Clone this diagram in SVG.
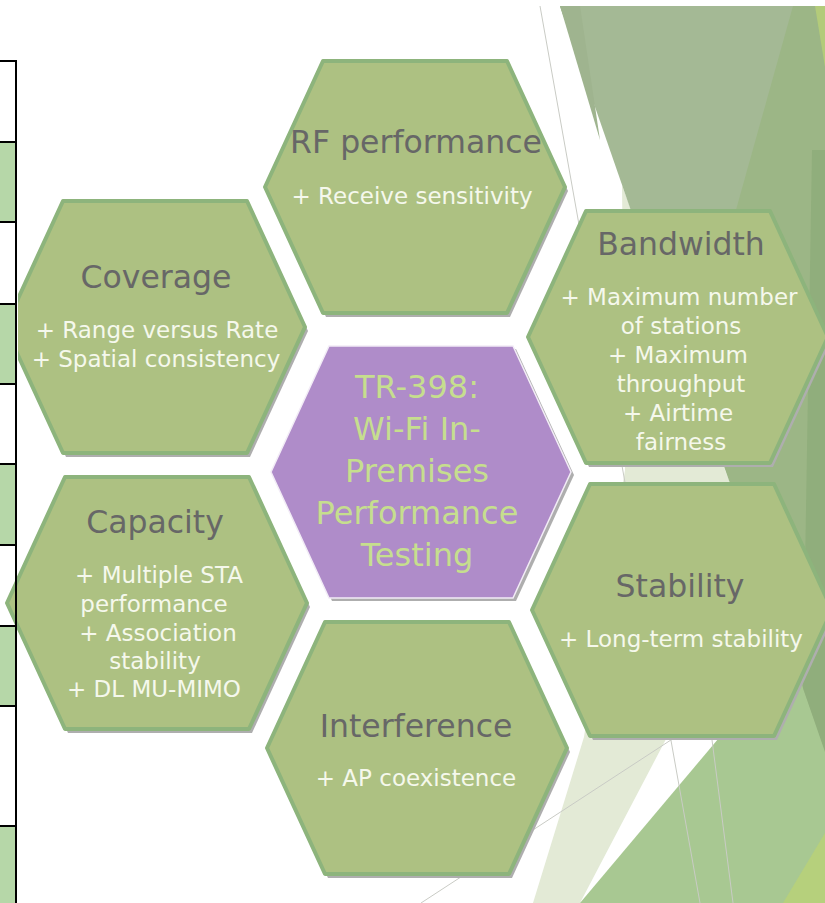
<svg xmlns="http://www.w3.org/2000/svg" xmlns:xlink="http://www.w3.org/1999/xlink" width="825" height="903" viewBox="0 0 825 903">
<style>
.hx{fill:#adc182;stroke:#8db47c;stroke-width:4;stroke-linejoin:round}
.hc{fill:#af8cc9;stroke:#f2ecf6;stroke-width:1.5}
.sh{fill:#aeaeae}
.t{font-family:"DejaVu Sans",Verdana,sans-serif;font-size:31.5px;fill:#676767;text-anchor:middle}
.s{font-family:"DejaVu Sans",Verdana,sans-serif;font-size:23px;fill:#f5f8ec;text-anchor:middle}
.c{font-family:"DejaVu Sans",Verdana,sans-serif;font-size:32px;fill:#c6de8e;text-anchor:middle}
.ln{stroke:#c9cbc5;stroke-width:1;fill:none}
.tl{stroke:#000;stroke-width:2}
</style>
<defs>
<path id="hex" d="M-92,-126 H92 L150,0 L92,126 H-92 L-150,0 Z"/>
<clipPath id="clipL"><rect x="18" y="0" width="807" height="903"/></clipPath>
</defs>

<g id="background">
<rect x="0" y="0" width="825" height="903" fill="#ffffff"/>
<polygon points="622,185 725,470 760,560 580,903 533,903 584,737 625,470" fill="#e3ead6"/>
<polygon points="580,903 825,612 825,903" fill="#a8c892"/>
<polygon points="560,6 825,6 825,750" fill="#9cb686"/>
<polygon points="812,150 825,150 825,752 803,688" fill="#90ae7c"/>
<polygon points="560,6 793,6 689,378" fill="#a4b995"/>
<polygon points="560,6 580,6 600,140" fill="#9fb48f"/>
<polygon points="815,6 825,6 825,67" fill="#b3cb7a"/>
<polygon points="783,903 825,833 825,903" fill="#b6d07c"/>
<line class="ln" x1="540" y1="6" x2="700" y2="903"/>
<line class="ln" x1="712" y1="740" x2="733" y2="903"/>
<line class="ln" x1="700" y1="721" x2="421" y2="903"/>
</g>

<g id="connectors"></g>

<g id="node-coverage" clip-path="url(#clipL)">
<use href="#hex" class="sh" x="158" y="331"/>
<use href="#hex" class="hx" x="155" y="327"/>
<text class="t" x="156" y="288">Coverage</text>
<text class="s" x="157" y="338">+ Range versus Rate</text>
<text class="s" x="156" y="367">+ Spatial consistency</text>
</g>

<g id="table-strip">
<rect x="0" y="60" width="16" height="82" fill="#ffffff"/>
<rect x="0" y="142" width="16" height="80" fill="#b6d7a8"/>
<rect x="0" y="222" width="16" height="82" fill="#ffffff"/>
<rect x="0" y="304" width="16" height="80" fill="#b6d7a8"/>
<rect x="0" y="384" width="16" height="80" fill="#ffffff"/>
<rect x="0" y="464" width="16" height="81" fill="#b6d7a8"/>
<rect x="0" y="545" width="16" height="81" fill="#ffffff"/>
<rect x="0" y="626" width="16" height="80" fill="#b6d7a8"/>
<rect x="0" y="706" width="16" height="120" fill="#ffffff"/>
<rect x="0" y="826" width="16" height="77" fill="#b6d7a8"/>
<line class="tl" x1="0" y1="61" x2="17" y2="61"/>
<line class="tl" x1="0" y1="142" x2="17" y2="142"/>
<line class="tl" x1="0" y1="222" x2="17" y2="222"/>
<line class="tl" x1="0" y1="304" x2="17" y2="304"/>
<line class="tl" x1="0" y1="384" x2="17" y2="384"/>
<line class="tl" x1="0" y1="464" x2="17" y2="464"/>
<line class="tl" x1="0" y1="545" x2="17" y2="545"/>
<line class="tl" x1="0" y1="626" x2="17" y2="626"/>
<line class="tl" x1="0" y1="706" x2="17" y2="706"/>
<line class="tl" x1="0" y1="826" x2="17" y2="826"/>
</g>

<g id="node-rf">
<use href="#hex" class="sh" x="418" y="191"/>
<use href="#hex" class="hx" x="415" y="187"/>
<text class="t" x="416" y="153">RF performance</text>
<text class="s" x="412" y="204">+ Receive sensitivity</text>
</g>

<g id="node-bandwidth">
<use href="#hex" class="sh" x="681" y="341"/>
<use href="#hex" class="hx" x="678" y="337"/>
<text class="t" x="681" y="255">Bandwidth</text>
<text class="s" x="679" y="305">+ Maximum number</text>
<text class="s" x="681" y="333.5">of stations</text>
<text class="s" x="678" y="362.5">+ Maximum</text>
<text class="s" x="681" y="391.5">throughput</text>
<text class="s" x="678" y="421">+ Airtime</text>
<text class="s" x="681" y="449.5">fairness</text>
</g>

<g id="node-center">
<use href="#hex" class="sh" x="424" y="475"/>
<use href="#hex" class="hc" x="421" y="472"/>
<text class="c" x="417" y="398">TR-398:</text>
<text class="c" x="417" y="440">Wi-Fi In-</text>
<text class="c" x="417" y="482">Premises</text>
<text class="c" x="417" y="524">Performance</text>
<text class="c" x="417" y="566">Testing</text>
</g>

<g id="node-capacity">
<use href="#hex" class="sh" x="160" y="607"/>
<use href="#hex" class="hx" x="157" y="603"/>
<text class="t" x="155" y="533">Capacity</text>
<text class="s" x="159" y="583">+ Multiple STA</text>
<text class="s" x="154" y="612">performance</text>
<text class="s" x="158" y="641">+ Association</text>
<text class="s" x="155" y="669">stability</text>
<text class="s" x="154" y="697">+ DL MU-MIMO</text>
</g>

<g id="node-stability">
<use href="#hex" class="sh" x="685" y="614"/>
<use href="#hex" class="hx" x="682" y="610"/>
<text class="t" x="680" y="597">Stability</text>
<text class="s" x="681" y="647">+ Long-term stability</text>
</g>

<g id="node-interference">
<use href="#hex" class="sh" x="420" y="752"/>
<use href="#hex" class="hx" x="417" y="748"/>
<text class="t" x="416" y="737">Interference</text>
<text class="s" x="416" y="786">+ AP coexistence</text>
</g>

<line class="tl" x1="16" y1="60" x2="16" y2="903"/>
</svg>
